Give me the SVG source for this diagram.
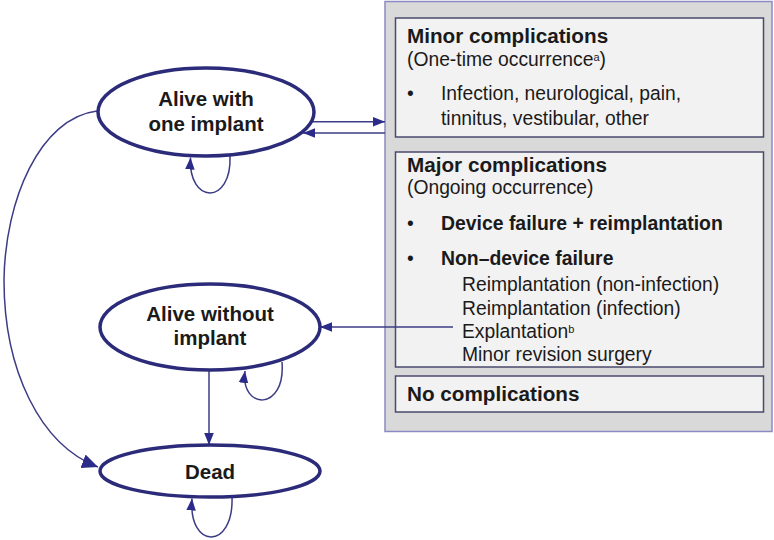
<svg xmlns="http://www.w3.org/2000/svg" width="774" height="540" viewBox="0 0 774 540">
<defs>
<style>
.node{fill:#ffffff;stroke:#2b2b7a;stroke-width:3.5}
.lbl{font-family:"Liberation Sans",Arial,sans-serif;font-weight:bold;font-size:20.5px;fill:#1a1a1a;text-anchor:middle}
.conn{fill:none;stroke:#3c3c85;stroke-width:1.5}
.panel{fill:#d9d9d9;stroke:#8a8ac4;stroke-width:1.5}
.box{fill:#f2f2f2;stroke:#4a4a6e;stroke-width:1.5}
.h{font-family:"Liberation Sans",Arial,sans-serif;font-weight:bold;font-size:20.7px;fill:#1a1a1a}
.t{font-family:"Liberation Sans",Arial,sans-serif;font-size:19.3px;fill:#1a1a1a}
.b{font-family:"Liberation Sans",Arial,sans-serif;font-weight:bold;font-size:19.4px;fill:#1a1a1a}
</style>
<marker id="ah" markerUnits="userSpaceOnUse" markerWidth="12" markerHeight="12" viewBox="0 0 10 10" refX="10" refY="5" orient="auto">
<path d="M0,1 L10,5 L0,9 Z" fill="#2b2b8a"/>
</marker>
<marker id="ahl" markerUnits="userSpaceOnUse" markerWidth="16" markerHeight="16" viewBox="0 0 10 10" refX="10" refY="5" orient="auto">
<path d="M0,0.5 L10,5 L0,9.5 Z" fill="#2b2b8a"/>
</marker>
</defs>
<rect width="774" height="540" fill="#ffffff"/>

<g id="complications-panel">
<rect class="panel" x="385" y="1.5" width="387" height="430"/>
<g id="minor">
<rect class="box" x="395.5" y="18" width="368" height="119"/>
<text class="h" x="407" y="43">Minor complications</text>
<text class="t" x="407" y="66">(One-time occurrence<tspan font-size="11" dy="-5">a</tspan><tspan dy="5">)</tspan></text>
<text class="t" x="407" y="100">•</text>
<text class="t" x="441" y="100">Infection, neurological, pain,</text>
<text class="t" x="441" y="125">tinnitus, vestibular, other</text>
</g>
<g id="major">
<rect class="box" x="395.5" y="152" width="368" height="215"/>
<text class="h" x="407" y="172">Major complications</text>
<text class="t" x="407" y="194">(Ongoing occurrence)</text>
<text class="t" x="407" y="230">•</text>
<text class="b" x="441" y="230">Device failure + reimplantation</text>
<text class="t" x="407" y="265">•</text>
<text class="b" x="441" y="265">Non–device failure</text>
<text class="t" x="462" y="291">Reimplantation (non-infection)</text>
<text class="t" x="462" y="315">Reimplantation (infection)</text>
<text class="t" x="462" y="338">Explantation<tspan font-size="11" dy="-5">b</tspan></text>
<text class="t" x="462" y="361">Minor revision surgery</text>
</g>
<g id="none">
<rect class="box" x="395.5" y="376" width="368" height="36"/>
<text class="h" x="407" y="401">No complications</text>
</g>
</g>

<g id="connectors">
<path class="conn" d="M312,121.7 L385,121.7" marker-end="url(#ah)"/>
<path class="conn" d="M385,133 L303,133" marker-end="url(#ah)"/>
<path class="conn" d="M453,327 L320,327" marker-end="url(#ah)"/>
<path class="conn" d="M209,370 L209,445" marker-end="url(#ah)"/>
<path class="conn" d="M97,111 C40,118 5,200 4,280 C4,370 40,445 98,467" marker-end="url(#ahl)"/>
<path class="conn" d="M230,156 C232,205 188,205 190.5,157.5" marker-end="url(#ah)"/>
<path class="conn" d="M282,362 C286,412 240,410 245,371" marker-end="url(#ah)"/>
<path class="conn" d="M232,497 C234,550 188,550 192,498.5" marker-end="url(#ah)"/>
</g>

<g id="alive-one-implant">
<ellipse class="node" cx="206" cy="112" rx="108" ry="44"/>
<text class="lbl" x="206" y="106">Alive with</text>
<text class="lbl" x="206" y="131">one implant</text>
</g>
<g id="alive-without-implant">
<ellipse class="node" cx="210" cy="327" rx="110" ry="43"/>
<text class="lbl" x="210" y="321">Alive without</text>
<text class="lbl" x="210" y="345">implant</text>
</g>
<g id="dead">
<ellipse class="node" cx="210" cy="471" rx="110" ry="26"/>
<text class="lbl" x="210" y="479">Dead</text>
</g>
</svg>
